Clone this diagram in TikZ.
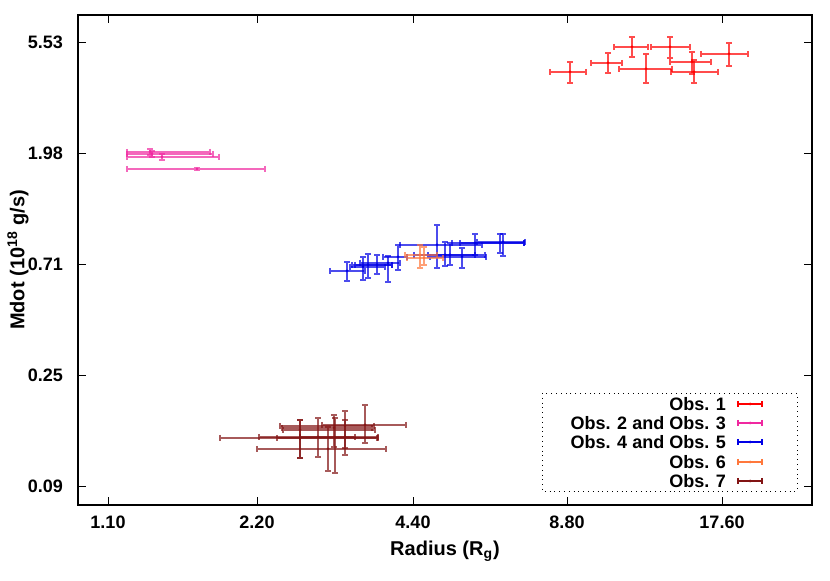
\documentclass[tikz,border=0pt]{standalone}
\usepackage{fontspec}
\setmainfont{Liberation Sans}
\definecolor{obsA}{RGB}{255,0,0}
\definecolor{obsB}{RGB}{240,40,160}
\definecolor{obsC}{RGB}{0,0,230}
\definecolor{obsD}{RGB}{255,120,60}
\definecolor{obsE}{RGB}{130,20,20}
\tikzset{
  axisbox/.style ={draw,thick},
  tick/.style ={thin},
  ticklabel/.style ={font=\bfseries\small},
  errbar/.style ={draw=#1,opacity=.7,line width=.8pt},
  legend entry/.style ={font=\bfseries\small,anchor=east},
}
% \ebar{colour}{x}{y}{xlo}{xhi}{ytop}{ybot}
\newcommand{\ebar}[7]{%
  \draw[errbar=#1] (#4,#3) -- (#5,#3) (#4,#3-3) -- (#4,#3+3) (#5,#3-3) -- (#5,#3+3)
    (#2,#6) -- (#2,#7) (#2-3,#6) -- (#2+3,#6) (#2-3,#7) -- (#2+3,#7);
  \fill[#1] (#2,#3) circle (1.5);}
\begin{document}
\begin{tikzpicture}[x=0.5pt,y=-0.5pt]
\useasboundingbox (0,0) rectangle (830,581);
\draw[axisbox] (78,15) rectangle (812,505);
% x ticks
\foreach \xx/\lab in {108/1.10,257/2.20,413/4.40,567/8.80,722/17.60}{
  \draw[tick] (\xx,505) -- (\xx,497) (\xx,15) -- (\xx,23);
  \node[ticklabel] (xt\xx) at (\xx,522) {\lab};
}
% y ticks
\foreach \yy/\lab in {42/5.53,153/1.98,264/0.71,375/0.25,486/0.09}{
  \draw[tick] (78,\yy) -- (86,\yy) (812,\yy) -- (804,\yy);
  \node[ticklabel,anchor=east] (yt\yy) at (70,\yy) {\lab};
}
\node[font=\bfseries] (xlab) at (445,551) {Radius (R$_\mathbf{g}$)};
\node[font=\bfseries,rotate=90] (ylab) at (18,260) {Mdot (10$^{\mathbf{18}}$ g/s)};
% Obs. 1
\ebar{obsA}{570}{72}{550}{586}{62}{83}
\ebar{obsA}{608}{63}{591}{622}{53}{73}
\ebar{obsA}{632}{47}{614}{648}{37}{57}
\ebar{obsA}{670}{47}{651}{690}{37}{58}
\ebar{obsA}{646}{69}{619}{672}{54}{83}
\ebar{obsA}{692}{62}{670}{711}{52}{74}
\ebar{obsA}{694}{72}{671}{718}{60}{83}
\ebar{obsA}{729}{54}{701}{748}{43}{66}
% Obs. 2 and Obs. 3
\ebar{obsB}{150}{152}{127}{210}{149}{155}
\ebar{obsB}{152}{154}{127}{213}{151}{157}
\ebar{obsB}{162}{157}{127}{219}{154}{160}
\ebar{obsB}{197}{169}{127}{265}{168}{170}
% Obs. 4 and Obs. 5
\ebar{obsC}{347}{271}{330}{365}{262}{281}
\ebar{obsC}{363}{267}{350}{385}{257}{280}
\ebar{obsC}{368}{265}{352}{392}{254}{278}
\ebar{obsC}{377}{265}{355}{392}{255}{274}
\ebar{obsC}{388}{263}{360}{400}{256}{282}
\ebar{obsC}{398}{257}{383}{407}{245}{270}
\ebar{obsC}{437}{245}{400}{482}{225}{268}
\ebar{obsC}{445}{255}{414}{475}{242}{266}
\ebar{obsC}{450}{255}{428}{485}{243}{265}
\ebar{obsC}{462}{257}{430}{486}{248}{268}
\ebar{obsC}{475}{243}{452}{524}{234}{255}
\ebar{obsC}{500}{243}{460}{524}{234}{253}
\ebar{obsC}{503}{242}{477}{525}{234}{256}
% Obs. 6
\ebar{obsD}{420}{255}{405}{437}{245}{268}
\ebar{obsD}{424}{258}{407}{443}{247}{265}
% Obs. 7
\ebar{obsE}{300}{438}{220}{377}{420}{458}
\ebar{obsE}{318}{437}{259}{378}{418}{457}
\ebar{obsE}{335}{438}{277}{378}{418}{473}
\ebar{obsE}{334}{428}{282}{372}{415}{447}
\ebar{obsE}{345}{426}{280}{374}{411}{448}
\ebar{obsE}{365}{425}{322}{406}{405}{443}
\ebar{obsE}{328}{449}{257}{386}{427}{471}
\ebar{obsE}{300}{430}{283}{375}{420}{458}
\ebar{obsE}{345}{437}{300}{355}{420}{455}
% legend
\draw[dotted] (542,393) rectangle (797,491);
\foreach \yy/\col/\lab in {404/obsA/Obs. 1,423/obsB/Obs. 2 and Obs. 3,442/obsC/Obs. 4 and Obs. 5,462/obsD/Obs. 6,481/obsE/Obs. 7}{
  \node[legend entry] (leg\yy) at (733,\yy) {\lab};
  \draw[\col,line width=.8pt] (738,\yy) -- (762,\yy) (738,\yy-3) -- (738,\yy+3) (762,\yy-3) -- (762,\yy+3);
  \fill[\col] (750,\yy) circle (1.5);
}
\end{tikzpicture}
\end{document}
